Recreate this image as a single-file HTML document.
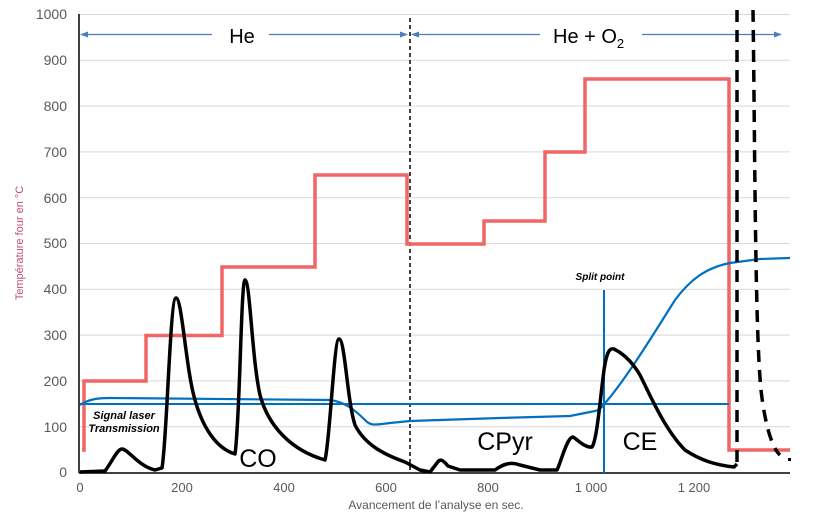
<!DOCTYPE html>
<html><head><style>
body{margin:0;background:#fff;}
svg{display:block;font-family:"Liberation Sans",Arial,sans-serif;}
</style></head><body>
<svg width="824" height="529" viewBox="0 0 824 529">
<g stroke="#d9d9d9" stroke-width="1">
<line x1="79" x2="790" y1="14.5" y2="14.5"/><line x1="79" x2="790" y1="60.3" y2="60.3"/>
<line x1="79" x2="790" y1="106.1" y2="106.1"/><line x1="79" x2="790" y1="151.9" y2="151.9"/>
<line x1="79" x2="790" y1="197.7" y2="197.7"/><line x1="79" x2="790" y1="243.5" y2="243.5"/>
<line x1="79" x2="790" y1="289.3" y2="289.3"/><line x1="79" x2="790" y1="335.1" y2="335.1"/>
<line x1="79" x2="790" y1="380.9" y2="380.9"/><line x1="79" x2="790" y1="426.7" y2="426.7"/>
</g>
<g fill="#595959" font-size="14" text-anchor="end">
<text x="67" y="19">1000</text><text x="67" y="65">900</text><text x="67" y="111">800</text>
<text x="67" y="157">700</text><text x="67" y="203">600</text><text x="67" y="248">500</text>
<text x="67" y="294">400</text><text x="67" y="340">300</text><text x="67" y="386">200</text>
<text x="67" y="432">100</text><text x="67" y="477">0</text>
</g>
<g fill="#595959" font-size="13" text-anchor="middle">
<text x="80" y="492">0</text><text x="182" y="492">200</text><text x="284" y="492">400</text>
<text x="386" y="492">600</text><text x="488" y="492">800</text><text x="591" y="492">1 000</text><text x="694" y="492">1 200</text>
<text x="436" y="509" font-size="12">Avancement de l’analyse en sec.</text>
<text transform="translate(23,243) rotate(-90)" font-size="11" fill="#c0506e">Température four en °C</text>
</g>
<line x1="79" y1="14" x2="79" y2="473" stroke="#000" stroke-width="1.5"/>
<line x1="79" y1="473" x2="790" y2="473" stroke="#000" stroke-width="1.5"/>
<!-- arrows -->
<g stroke="#4a7ebb" stroke-width="1.2" fill="#4a7ebb">
<line x1="82" y1="34.5" x2="212" y2="34.5"/><line x1="269" y1="34.5" x2="404" y2="34.5"/>
<line x1="414" y1="34.5" x2="540" y2="34.5"/><line x1="642" y1="34.5" x2="778" y2="34.5"/>
<polygon points="80,34.5 88,31.5 88,37.5" stroke="none"/><polygon points="408,34.5 400,31.5 400,37.5" stroke="none"/>
<polygon points="411,34.5 419,31.5 419,37.5" stroke="none"/><polygon points="782,34.5 774,31.5 774,37.5" stroke="none"/>
</g>
<text x="242" y="43" font-size="20" text-anchor="middle" fill="#000">He</text>
<text x="553" y="43" font-size="20" fill="#000">He + O<tspan font-size="13" dy="5">2</tspan></text>
<line x1="410" y1="18" x2="410" y2="473" stroke="#000" stroke-width="1.5" stroke-dasharray="4,3"/>
<!-- red step -->
<polyline fill="none" stroke="#f06666" stroke-width="3.5" points="82,450 84,450 84,381 146,381 146,335.5 222,335.5 222,267 315,267 315,175 407,175 407,244 484,244 484,221 545,221 545,152 585,152 585,79 729,79 729,450 790,450"/>
<!-- blue -->
<line x1="80" y1="404" x2="729" y2="404" stroke="#0070c0" stroke-width="2"/>
<line x1="604" y1="290" x2="604" y2="473" stroke="#0070c0" stroke-width="2"/>
<path fill="none" stroke="#0070c0" stroke-width="2.2" d="M80,405 C88,400 95,398 110,398 L330,400 C345,402 355,410 365,420 C370,426 375,425 390,423 L410,421 L500,418 L570,416 L595,411 C600,410 603,406 606,402 C625,380 650,340 675,300 C690,280 705,268 730,263 L760,259 L790,258"/>
<!-- black signal -->
<path fill="none" stroke="#000" stroke-width="3.5" stroke-linejoin="round" d="M80,472 L105,471 C112,462 117,449 122,449 C128,449 138,466 155,470 L162,468 C167,440 170,298 176,298 C182,298 186,370 195,400 C202,425 215,448 235,454 C240,420 241,280 245,280 C250,280 252,360 260,395 C268,425 290,450 325,460 C330,440 334,339 339,339 C345,339 347,400 355,425 C365,445 385,455 405,462 L420,470 L430,472 L437,463 C440,458 443,460 448,466 L460,470 L495,470 C502,465 510,461 520,465 L540,470 L557,470 C561,462 567,437 573,437 C578,440 585,448 592,447 C597,440 600,400 604,370 C607,350 610,348 614,349 C620,352 630,358 640,375 C650,395 665,430 685,450 C700,460 715,465 734,467 L737,464"/>
<!-- dashed thick -->
<line x1="737" y1="10" x2="737" y2="468" stroke="#000" stroke-width="3.5" stroke-dasharray="12,8"/>
<path fill="none" stroke="#000" stroke-width="3.5" stroke-dasharray="12,8" d="M753,10 C755,150 755,330 761,390 C765,425 772,448 780,455"/>
<rect x="788" y="458" width="3" height="3" fill="#000"/>
<!-- labels -->
<text x="258" y="467" font-size="25" text-anchor="middle" fill="#000">CO</text>
<text x="505" y="450" font-size="25" text-anchor="middle" fill="#000">CPyr</text>
<text x="640" y="450" font-size="25" text-anchor="middle" fill="#000">CE</text>
<text x="600" y="280" font-size="10" font-style="italic" font-weight="bold" text-anchor="middle" fill="#000">Split point</text>
<text x="124" y="419" font-size="11" font-style="italic" font-weight="bold" text-anchor="middle" fill="#000">Signal laser</text>
<text x="124" y="432" font-size="11" font-style="italic" font-weight="bold" text-anchor="middle" fill="#000">Transmission</text>
</svg>
</body></html>
